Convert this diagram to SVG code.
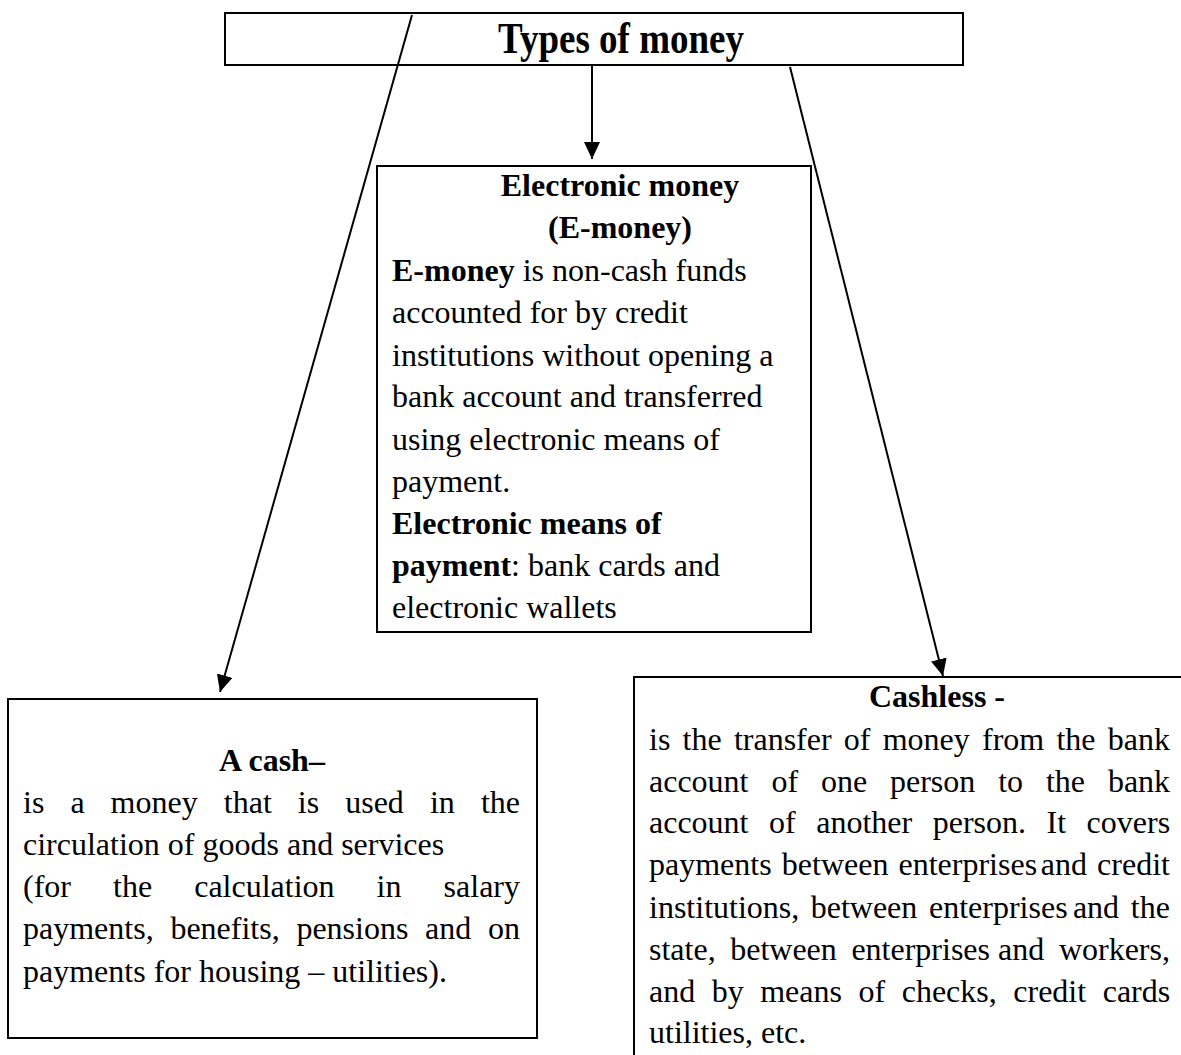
<svg xmlns="http://www.w3.org/2000/svg" width="1181" height="1055" viewBox="0 0 1181 1055">
  <style>
    .box { fill: #fff; stroke: #000; stroke-width: 2; }
    .t { font-family: "Liberation Serif", "Times New Roman", serif; font-size: 32px; fill: #000; }
    .b { font-weight: bold; }
    .c { text-anchor: middle; }
    .link { stroke: #000; stroke-width: 2; fill: none; }
  </style>
  <defs>
    <marker id="arrow" markerUnits="userSpaceOnUse" markerWidth="18" markerHeight="17" refX="17" refY="8" orient="auto">
      <path d="M0,0 L17,8 L0,16 z" fill="#000"/>
    </marker>
  </defs>

  <!-- Boxes -->
  <g id="node-types">
    <rect class="box" x="225" y="13" width="738" height="52"/>
    <text class="t b c" x="621" y="53" textLength="246" lengthAdjust="spacingAndGlyphs" style="font-size:44px">Types of money</text>
  </g>

  <g id="node-emoney">
    <rect class="box" x="377" y="166" width="434" height="466"/>
    <text class="t b c" x="620" y="196">Electronic money</text>
    <text class="t b c" x="620" y="238">(E-money)</text>
    <text class="t" x="392" y="281"><tspan class="b">E-money</tspan> is non-cash funds</text>
    <text class="t" x="392" y="323">accounted for by credit</text>
    <text class="t" x="392" y="366">institutions without opening a</text>
    <text class="t" x="392" y="407">bank account and transferred</text>
    <text class="t" x="392" y="450">using electronic means of</text>
    <text class="t" x="392" y="492">payment.</text>
    <text class="t b" x="392" y="534">Electronic means of</text>
    <text class="t" x="392" y="576"><tspan class="b">payment</tspan>: bank cards and</text>
    <text class="t" x="392" y="618">electronic wallets</text>
  </g>

  <!-- justified paragraphs: each word placed on its own x -->
  <g id="node-cash">
    <rect class="box" x="8" y="699" width="529" height="339"/>
    <text class="t b c" x="272" y="771">A cash–</text>
    <text class="t" y="813"><tspan x="23">is</tspan><tspan x="70.4">a</tspan><tspan x="110.6">money</tspan><tspan x="223.8">that</tspan><tspan x="297.8">is</tspan><tspan x="345.2">used</tspan><tspan x="429.9">in</tspan><tspan x="480.9">the</tspan></text>
    <text class="t" x="23" y="855">circulation of goods and services</text>
    <text class="t" y="897"><tspan x="23">(for</tspan><tspan x="113">the</tspan><tspan x="194.2">calculation</tspan><tspan x="376.6">in</tspan><tspan x="443.6">salary</tspan></text>
    <text class="t" y="939"><tspan x="23">payments,</tspan><tspan x="170.4">benefits,</tspan><tspan x="296.4">pensions</tspan><tspan x="425.1">and</tspan><tspan x="488">on</tspan></text>
    <text class="t" x="23" y="982">payments for housing – utilities).</text>
  </g>

  <g id="node-cashless">
    <rect class="box" x="634" y="677" width="600" height="420"/>
    <text class="t b c" x="937" y="707">Cashless -</text>
    <text class="t" y="750"><tspan x="649">is</tspan><tspan x="682.5">the</tspan><tspan x="733.9">transfer</tspan><tspan x="843.8">of</tspan><tspan x="882.7">money</tspan><tspan x="982">from</tspan><tspan x="1056.4">the</tspan><tspan x="1107.7">bank</tspan></text>
    <text class="t" y="792"><tspan x="649">account</tspan><tspan x="771.4">of</tspan><tspan x="820.9">one</tspan><tspan x="890">person</tspan><tspan x="998.2">to</tspan><tspan x="1045.9">the</tspan><tspan x="1107.9">bank</tspan></text>
    <text class="t" y="833"><tspan x="649">account</tspan><tspan x="769">of</tspan><tspan x="816.2">another</tspan><tspan x="932.7">person.</tspan><tspan x="1046.5">It</tspan><tspan x="1086.6">covers</tspan></text>
    <text class="t" y="875"><tspan x="649">payments</tspan><tspan x="781.8">between</tspan><tspan x="898.5">enterprises</tspan><tspan x="1040.8">and</tspan><tspan x="1097.1">credit</tspan></text>
    <text class="t" y="918"><tspan x="649">institutions,</tspan><tspan x="810.7">between</tspan><tspan x="929">enterprises</tspan><tspan x="1072.9">and</tspan><tspan x="1130.8">the</tspan></text>
    <text class="t" y="960"><tspan x="649">state,</tspan><tspan x="730.2">between</tspan><tspan x="851.4">enterprises</tspan><tspan x="998.1">and</tspan><tspan x="1058.9">workers,</tspan></text>
    <text class="t" y="1002"><tspan x="649">and</tspan><tspan x="711.7">by</tspan><tspan x="760.2">means</tspan><tspan x="858.5">of</tspan><tspan x="901.7">checks,</tspan><tspan x="1013.3">credit</tspan><tspan x="1102.7">cards</tspan></text>
    <text class="t" x="649" y="1043">utilities, etc.</text>
  </g>

  <!-- Connectors from the title box to the three kinds of money -->
  <g id="connectors">
    <line class="link" x1="412" y1="15" x2="220" y2="692" marker-end="url(#arrow)"/>
    <line class="link" x1="592" y1="66" x2="592" y2="159" marker-end="url(#arrow)"/>
    <line class="link" x1="790" y1="67" x2="943" y2="676" marker-end="url(#arrow)"/>
  </g>
</svg>
